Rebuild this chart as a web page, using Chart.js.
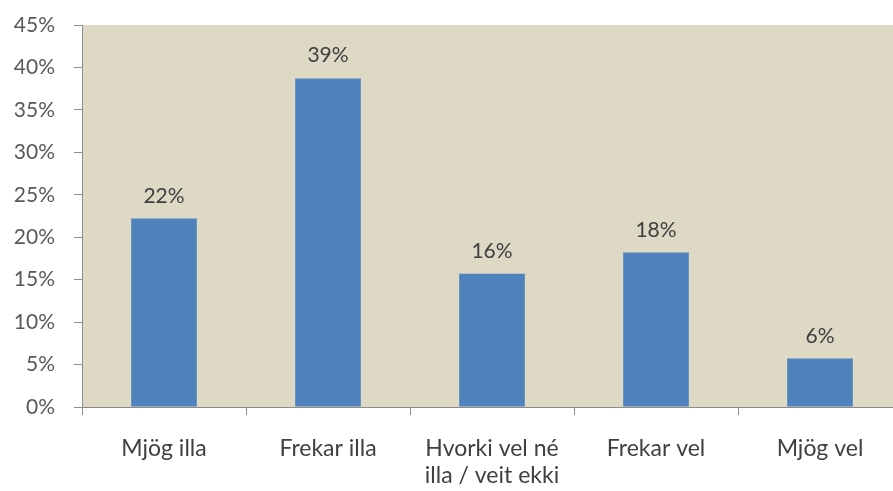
<!DOCTYPE html>
<html>
<head>
<meta charset="utf-8">
<script src="https://cdn.jsdelivr.net/npm/chart.js@4/dist/chart.umd.min.js"></script>
<style>
html,body{margin:0;padding:0;background:#fff;overflow:hidden;width:893px;height:491px;}
#wrap{position:absolute;left:0;top:0;width:902px;height:491px;}
</style>
</head>
<body>
<div id="wrap"><canvas id="c" width="902" height="491"></canvas></div>
<script>
const categories = ["Mjög illa", "Frekar illa", ["Hvorki vel né", "illa / veit ekki"], "Frekar vel", "Mjög vel"];
const values = [22.2, 38.7, 15.7, 18.2, 5.7];
const valueLabels = ["22%", "39%", "16%", "18%", "6%"];
const yTicks = [0, 5, 10, 15, 20, 25, 30, 35, 40, 45];

const FONT = "Lato, 'Open Sans', sans-serif";

const plotBg = {
  id: 'plotBg',
  beforeDraw(chart) {
    const {ctx, chartArea: a} = chart;
    ctx.save();
    ctx.fillStyle = '#DDD9C4';
    ctx.fillRect(a.left, a.top, a.right - a.left, a.bottom - a.top);
    ctx.restore();
  }
};

const barLabels = {
  id: 'barLabels',
  afterDatasetsDraw(chart) {
    const {ctx} = chart;
    const meta = chart.getDatasetMeta(0);
    ctx.save();
    ctx.font = "21px " + FONT;
    ctx.fillStyle = '#404040';
    ctx.textAlign = 'center';
    ctx.textBaseline = 'alphabetic';
    meta.data.forEach((bar, i) => {
      ctx.fillText(valueLabels[i], bar.x, bar.y - 16);
    });
    ctx.restore();
  }
};

new Chart(document.getElementById('c'), {
  type: 'bar',
  data: {
    labels: categories,
    datasets: [{
      data: values,
      backgroundColor: '#4F81BD',
      borderWidth: 0,
      categoryPercentage: 1.0,
      barPercentage: 0.4
    }]
  },
  options: {
    responsive: false,
    animation: false,
    devicePixelRatio: 1,
    layout: {padding: {top: 25, right: 0, left: 0, bottom: 0}},
    plugins: {legend: {display: false}, tooltip: {enabled: false}},
    scales: {
      x: {
        offset: true,
        grid: {display: true, offset: true, drawOnChartArea: false, drawTicks: true, tickLength: 8, color: '#8c8c8c'},
        border: {display: true, color: '#8c8c8c', width: 1},
        ticks: {
          font: {family: FONT, size: 23, lineHeight: 1.18},
          color: '#404040',
          padding: 20,
          maxRotation: 0,
          autoSkip: false
        },
        afterFit(s) { s.height = 84; s.paddingLeft = 0; s.paddingRight = 0; }
      },
      y: {
        min: 0,
        max: 45,
        afterBuildTicks(s) { s.ticks = yTicks.map(v => ({value: v})); },
        grid: {display: true, drawOnChartArea: false, drawTicks: true, tickLength: 8, color: '#8c8c8c'},
        border: {display: true, color: '#8c8c8c', width: 1},
        ticks: {
          font: {family: FONT, size: 21},
          color: '#595959',
          padding: 19,
          callback: v => v + '%'
        },
        afterFit(s) { s.width = 82; s.paddingTop = 0; s.paddingBottom = 0; }
      }
    }
  },
  plugins: [plotBg, barLabels]
});
</script>
</body>
</html>
